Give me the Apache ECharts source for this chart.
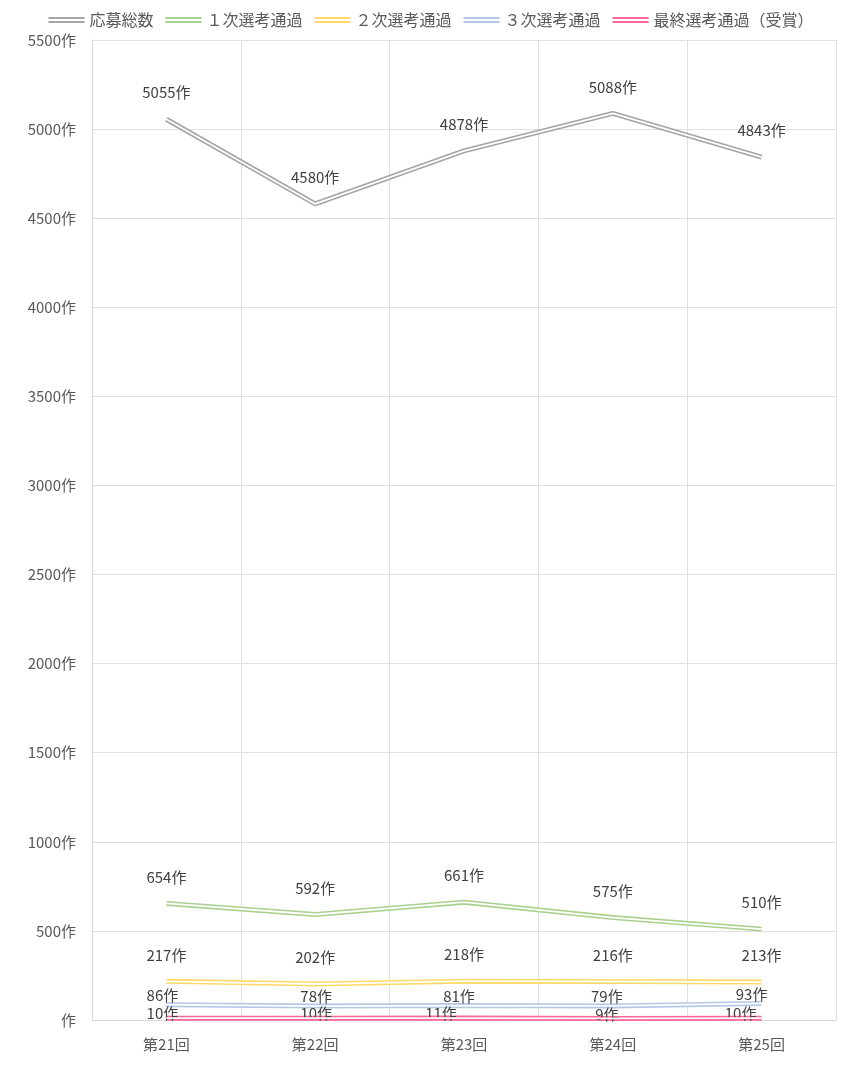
<!DOCTYPE html>
<html>
<head>
<meta charset="utf-8">
<script src="https://cdn.jsdelivr.net/npm/echarts@6/dist/echarts.min.js"></script>
<style>
html,body{margin:0;padding:0;background:#fff;}
#main{width:862px;height:1092px;}
</style>
</head>
<body>
<div id="main"></div>
<script>
const categories = ['第21回', '第22回', '第23回', '第24回', '第25回'];
const seriesNames = ['応募総数', '１次選考通過', '２次選考通過', '３次選考通過', '最終選考通過（受賞）'];
const totalEntries = [5055, 4580, 4878, 5088, 4843];
const firstPass = [654, 592, 661, 575, 510];
const secondPass = [217, 202, 218, 216, 213];
const thirdPass = [86, 78, 81, 79, 93];
const finalPass = [10, 10, 11, 9, 10];

const colors = ['#a5a5a5', '#a9d18e', '#ffd966', '#b4c7e7', '#ff6699'];
const dataSets = [totalEntries, firstPass, secondPass, thirdPass, finalPass];
const labelDist = [19, 19, 19, 2, -3];
// horizontal label nudges (style only)
const labelShiftX = [
  [0, 0, 0, 0, 0],
  [0, 0, 0, 0, 0],
  [0, 0, 0, 0, 0],
  [-4, 1, -5, -6, -10],
  [-4, 1, -23, -6, -21]
];
const FONT = '"Noto Sans CJK JP", "Noto Sans", sans-serif';

const series = [];
dataSets.forEach((d, i) => {
  series.push({
    name: seriesNames[i],
    type: 'line',
    data: d.map((v, j) => ({ value: v, label: { offset: [labelShiftX[i][j], 0] } })),
    symbol: 'circle',
    symbolSize: 0,
    showSymbol: true,
    z: 2 + i * 2,
    color: colors[i],
    lineStyle: { color: colors[i], width: 5 },
    itemStyle: { color: colors[i] },
    label: {
      show: true,
      position: 'top',
      distance: labelDist[i],
      formatter: '{c}作',
      color: '#404040',
      fontSize: 15,
      fontFamily: FONT
    },
    emphasis: { disabled: true },
    animation: false
  });
  series.push({
    name: '_w' + i,
    type: 'line',
    data: d,
    symbol: 'none',
    z: 3 + i * 2,
    silent: true,
    lineStyle: { color: '#ffffff', width: 1.8 },
    label: { show: false },
    emphasis: { disabled: true },
    animation: false
  });
});

const chart = echarts.init(document.getElementById('main'));
chart.setOption({
  backgroundColor: '#ffffff',
  animation: false,
  legend: {
    data: seriesNames,
    top: 7,
    left: 'center',
    itemWidth: 36,
    itemHeight: 6,
    itemGap: 12,
    icon: 'path://M0,0H36V2H0Z M0,4H36V6H0Z',
    textStyle: { color: '#595959', fontSize: 16, fontFamily: FONT }
  },
  grid: { left: 92, right: 26, top: 40, bottom: 72, containLabel: false },
  xAxis: {
    type: 'category',
    data: categories,
    boundaryGap: true,
    axisLine: { show: true, lineStyle: { color: '#d9d9d9' } },
    axisTick: { show: false },
    splitLine: { show: true, lineStyle: { color: '#e0e0e0' } },
    axisLabel: { color: '#595959', fontSize: 15, margin: 17, fontFamily: FONT }
  },
  yAxis: {
    type: 'value',
    min: 0,
    max: 5500,
    interval: 500,
    axisLine: { show: true, lineStyle: { color: '#d9d9d9' } },
    axisTick: { show: false },
    splitLine: { show: true, lineStyle: { color: '#e0e0e0' } },
    axisLabel: {
      color: '#595959', fontSize: 15, margin: 16, fontFamily: FONT,
      formatter: v => (v === 0 ? '' : v) + '作'
    }
  },
  series: series
});
</script>
</body>
</html>
